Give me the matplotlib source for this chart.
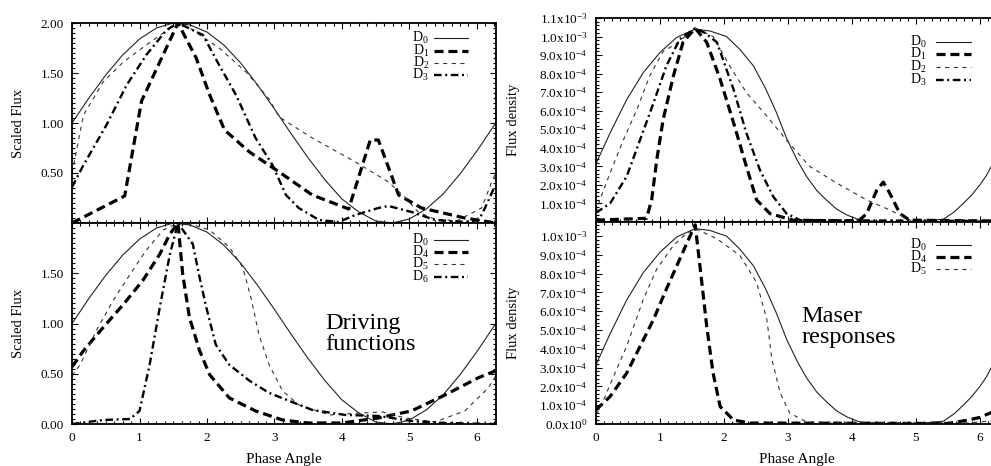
import matplotlib

matplotlib.use("Agg")

import matplotlib.pyplot as plt
import numpy as np
from matplotlib.ticker import AutoMinorLocator, FixedLocator, FuncFormatter

# ---- driving functions (left), scaled flux ----
D0_X = [0, 0.25, 0.5, 0.75, 1.0, 1.25, 1.5, 1.75, 2.0, 2.25, 2.5, 2.75, 3.0, 3.25,
        3.5, 3.75, 4.0, 4.25, 4.5, 4.75, 5.0, 5.25, 5.5, 5.75, 6.0, 6.28]
D0_Y = [1.00, 1.25, 1.48, 1.68, 1.84, 1.95, 2.00, 1.98, 1.91, 1.78, 1.60, 1.38, 1.14, 0.89,
        0.65, 0.43, 0.24, 0.11, 0.02, 0.00, 0.04, 0.14, 0.29, 0.49, 0.72, 1.00]

D1_X = [0, 0.78, 1.03, 1.57, 1.84, 2.04, 2.26, 2.63, 3.07, 3.56, 4.10, 4.42, 4.54, 4.84,
        5.18, 5.82, 6.28]
D1_Y = [0.00, 0.27, 1.22, 2.00, 1.65, 1.28, 0.93, 0.71, 0.51, 0.28, 0.14, 0.83, 0.83, 0.28,
        0.15, 0.05, 0.00]

D2_X = [0, 0.17, 0.46, 0.76, 1.10, 1.35, 1.57, 1.74, 2.18, 2.58, 2.92, 3.07, 3.56, 4.20,
        4.69, 4.93, 5.13, 5.37, 5.70, 6.07, 6.22, 6.28]
D2_Y = [0.50, 1.08, 1.41, 1.61, 1.78, 1.90, 2.00, 1.95, 1.75, 1.51, 1.24, 1.06, 0.85, 0.61,
        0.41, 0.26, 0.11, 0.04, 0.02, 0.15, 0.41, 0.50]

D3_X = [0, 0.17, 0.51, 0.81, 1.10, 1.40, 1.57, 1.94, 2.18, 2.43, 2.72, 2.97, 3.17, 3.36,
        3.66, 3.95, 4.20, 4.54, 4.69, 5.03, 5.38, 5.82, 6.03, 6.12, 6.24, 6.28]
D3_Y = [0.36, 0.58, 0.98, 1.38, 1.68, 1.93, 2.00, 1.88, 1.58, 1.28, 0.85, 0.58, 0.28, 0.15,
        0.03, 0.01, 0.08, 0.15, 0.17, 0.11, 0.03, 0.01, 0.03, 0.15, 0.33, 0.36]

D4_X = [0, 0.17, 0.46, 0.76, 1.05, 1.30, 1.45, 1.57, 1.64, 1.74, 1.89, 2.04, 2.33, 2.72,
        3.12, 3.50, 4.00, 4.54, 5.03, 5.53, 6.02, 6.28]
D4_Y = [0.57, 0.73, 0.96, 1.19, 1.43, 1.69, 1.89, 2.00, 1.49, 1.06, 0.73, 0.49, 0.26, 0.13,
        0.04, 0.01, 0.01, 0.06, 0.13, 0.29, 0.46, 0.53]

D5_X = [0, 0.12, 0.36, 0.61, 0.86, 1.10, 1.35, 1.57, 1.80, 2.04, 2.33, 2.53, 2.65, 2.77,
        2.92, 3.12, 3.36, 3.81, 4.30, 4.60, 4.94, 5.38, 5.82, 6.17, 6.28]
D5_Y = [0.48, 0.59, 0.93, 1.23, 1.49, 1.73, 1.93, 2.00, 1.98, 1.93, 1.76, 1.56, 1.26, 0.89,
        0.59, 0.33, 0.19, 0.09, 0.11, 0.12, 0.06, 0.02, 0.13, 0.36, 0.48]

D6_X = [0, 0.46, 0.86, 1.00, 1.15, 1.30, 1.45, 1.57, 1.79, 1.89, 1.99, 2.13, 2.33, 2.63,
        2.92, 3.22, 3.56, 4.05, 4.54, 5.03, 5.53, 6.28]
D6_Y = [0.00, 0.04, 0.05, 0.13, 0.59, 1.16, 1.69, 2.00, 1.79, 1.46, 1.16, 0.79, 0.59, 0.43,
        0.31, 0.23, 0.14, 0.09, 0.08, 0.03, 0.01, 0.00]

# ---- maser responses (right), flux density in units of 1e-4 ----
R0_X = [0, 0.22, 0.48, 0.74, 1.00, 1.26, 1.55, 1.78, 2.04, 2.25, 2.46, 2.65, 2.82, 2.98,
        3.15, 3.29, 3.45, 3.60, 3.76, 3.92, 4.13, 4.50, 5.00, 5.43, 5.60, 5.74, 5.87, 6.00,
        6.10, 6.17, 6.28]
R0_Y = [3.15, 4.8, 6.6, 8.06, 9.14, 9.95, 10.4, 10.3, 10.0, 9.3, 8.42, 7.2, 5.9, 4.5,
        3.3, 2.46, 1.7, 1.19, 0.7, 0.38, 0.10, 0.02, 0.02, 0.15, 0.55, 1.0, 1.45, 2.0,
        2.5, 2.95, 3.6]

R1_X = [0, 0.79, 0.87, 0.95, 1.05, 1.21, 1.36, 1.55, 1.73, 1.94, 2.15, 2.35, 2.51, 2.72,
        3.08, 4.10, 4.23, 4.39, 4.49, 4.59, 4.75, 4.90, 6.28]
R1_Y = [0.1, 0.2, 1.19, 3.36, 5.53, 7.88, 9.69, 10.45, 9.69, 7.7, 5.35, 3.0, 1.19, 0.45,
        0.1, 0.05, 0.45, 1.73, 2.15, 1.56, 0.45, 0.1, 0.05]

R2_X = [0, 0.06, 0.22, 0.43, 0.64, 0.84, 1.05, 1.25, 1.55, 1.83, 2.09, 2.35, 2.67, 2.98,
        3.34, 3.76, 4.23, 4.59, 4.91, 6.28]
R2_Y = [0.5, 1.19, 2.64, 4.44, 6.07, 7.88, 9.2, 9.6, 10.45, 10.0, 8.42, 6.98, 5.71, 4.4,
        3.0, 2.1, 1.19, 0.65, 0.1, 0.05]

R3_X = [0, 0.22, 0.48, 0.69, 0.90, 1.10, 1.31, 1.55, 1.70, 1.89, 2.15, 2.35, 2.56, 2.77,
        2.98, 3.19, 6.28]
R3_Y = [0.5, 1.0, 2.46, 4.44, 6.43, 8.42, 9.86, 10.45, 10.2, 9.69, 7.15, 4.8, 2.82, 1.37,
        0.45, 0.1, 0.05]

R4_X = [0, 0.22, 0.48, 0.69, 0.90, 1.10, 1.31, 1.47, 1.55, 1.63, 1.73, 1.83, 1.94, 2.15,
        2.41, 5.50, 5.80, 6.00, 6.17, 6.28]
R4_Y = [0.75, 1.46, 2.71, 4.14, 5.57, 7.18, 8.78, 10.0, 10.6, 8.25, 5.21, 2.71, 0.93, 0.21,
        0.05, 0.03, 0.2, 0.35, 0.6, 0.75]

R5_X = [0, 0.06, 0.27, 0.48, 0.74, 0.95, 1.21, 1.40, 1.55, 1.89, 2.25, 2.51, 2.67, 2.75,
        2.88, 3.03, 3.30, 5.80, 6.28]
R5_Y = [0.5, 0.8, 2.5, 4.14, 6.64, 8.25, 9.5, 10.1, 10.4, 9.86, 8.96, 7.53, 5.57, 3.43,
        1.64, 0.57, 0.1, 0.05, 0.2]

LEFT_TOP_TICKS = [0.5, 1.0, 1.5, 2.0]
LEFT_BOTTOM_TICKS = [0.0, 0.5, 1.0, 1.5]
RIGHT_TOP_TICKS = [1e-4 * k for k in range(1, 12)]
RIGHT_BOTTOM_TICKS = [1e-4 * k for k in range(0, 11)]
X_TICKS = [0, 1, 2, 3, 4, 5, 6]

SERIF = "Liberation Serif"
plt.rcParams["font.family"] = [SERIF, "DejaVu Serif"]
plt.rcParams["mathtext.fontset"] = "custom"
plt.rcParams["mathtext.rm"] = SERIF
plt.rcParams["mathtext.it"] = SERIF + ":italic"
plt.rcParams["mathtext.default"] = "regular"
plt.rcParams["lines.scale_dashes"] = False

STYLE_D0 = dict(color="#222222", lw=0.8, ls="-")
STYLE_THICK = dict(color="black", lw=2.3, ls=(0, (6.5, 3.5)))
STYLE_THIN = dict(color="#333333", lw=0.8, ls=(0, (3.0, 3.2)))
STYLE_DOTDASH = dict(color="black", lw=1.7, ls=(0, (5.5, 2.6, 1.4, 2.6)))


def sci_label(v, _pos=None):
    if abs(v) < 1e-12:
        return "0.0x10$^{0}$"
    e = int(np.floor(np.log10(abs(v)) + 1e-9))
    m = v / 10 ** e
    return f"{m:.1f}x10$^{{{e}}}$"


def style_axes(ax, yticks, ylim, fmt, show_x, ylabel, xminor=8, yminor=5):
    ax.set_xlim(0, 2 * np.pi)
    ax.set_ylim(*ylim)
    ax.xaxis.set_major_locator(FixedLocator(X_TICKS))
    ax.xaxis.set_minor_locator(AutoMinorLocator(xminor))
    ax.yaxis.set_major_locator(FixedLocator(yticks))
    ax.yaxis.set_minor_locator(AutoMinorLocator(yminor))
    ax.yaxis.set_major_formatter(FuncFormatter(fmt))
    ax.tick_params(which="both", direction="in", top=True, right=True, labelsize=9.5,
                   width=0.8)
    ax.tick_params(which="major", length=4.5, pad=6)
    ax.tick_params(which="minor", length=2.0)
    ax.tick_params(axis="x", labelbottom=show_x)
    for spine in ax.spines.values():
        spine.set_linewidth(1.3)
    ax.set_ylabel(ylabel, fontsize=10.5)


def draw_key(ax, labels, styles, x_text, x_line, rows):
    for label, style, y in zip(labels, styles, rows):
        ax.text(x_text, y, label, transform=ax.transAxes, ha="right", va="center",
                fontsize=10)
        ax.plot(x_line, [y, y], transform=ax.transAxes, clip_on=False, **style)


def main() -> None:
    fig = plt.figure(figsize=(9.91, 4.66), dpi=100)

    ax_lt = fig.add_axes([0.0727, 0.5215, 0.4278, 0.4291])
    ax_lb = fig.add_axes([0.0727, 0.0901, 0.4278, 0.4313])
    ax_rt = fig.add_axes([0.6014, 0.5236, 0.4057, 0.4378])
    ax_rb = fig.add_axes([0.6014, 0.0901, 0.4057, 0.4335])

    # driving functions, top
    ax_lt.plot(D0_X, D0_Y, **STYLE_D0)
    ax_lt.plot(D1_X, D1_Y, **STYLE_THICK)
    ax_lt.plot(D2_X, D2_Y, **STYLE_THIN)
    ax_lt.plot(D3_X, D3_Y, **STYLE_DOTDASH)
    style_axes(ax_lt, LEFT_TOP_TICKS, (0, 2.0), lambda v, p: f"{v:.2f}", False,
               "Scaled Flux", yminor=10)
    draw_key(ax_lt, ["D$_0$", "D$_1$", "D$_2$", "D$_3$"],
             [STYLE_D0, STYLE_THICK, STYLE_THIN, STYLE_DOTDASH],
             0.842, [0.853, 0.934], [0.925, 0.862, 0.800, 0.738])

    # driving functions, bottom
    ax_lb.plot(D0_X, D0_Y, **STYLE_D0)
    ax_lb.plot(D4_X, D4_Y, **STYLE_THICK)
    ax_lb.plot(D5_X, D5_Y, **STYLE_THIN)
    ax_lb.plot(D6_X, D6_Y, **STYLE_DOTDASH)
    style_axes(ax_lb, LEFT_BOTTOM_TICKS, (0, 2.0), lambda v, p: f"{v:.2f}", True,
               "Scaled Flux", yminor=10)
    draw_key(ax_lb, ["D$_0$", "D$_4$", "D$_5$", "D$_6$"],
             [STYLE_D0, STYLE_THICK, STYLE_THIN, STYLE_DOTDASH],
             0.842, [0.853, 0.934], [0.917, 0.857, 0.795, 0.733])
    ax_lb.text(3.76, 0.90, "Driving\nfunctions", fontsize=17.5, ha="left", va="center",
               linespacing=1.0)
    ax_lb.set_xlabel("Phase Angle", fontsize=11)

    # maser responses, top
    ax_rt.plot(R0_X, np.array(R0_Y) * 1e-4, **STYLE_D0)
    ax_rt.plot(R1_X, np.array(R1_Y) * 1e-4, **STYLE_THICK)
    ax_rt.plot(R2_X, np.array(R2_Y) * 1e-4, **STYLE_THIN)
    ax_rt.plot(R3_X, np.array(R3_Y) * 1e-4, **STYLE_DOTDASH)
    style_axes(ax_rt, RIGHT_TOP_TICKS, (0, 1.1e-3), sci_label, False, "Flux density")
    draw_key(ax_rt, ["D$_0$", "D$_1$", "D$_2$", "D$_3$"],
             [STYLE_D0, STYLE_THICK, STYLE_THIN, STYLE_DOTDASH],
             0.823, [0.845, 0.933], [0.884, 0.822, 0.760, 0.698])

    # maser responses, bottom
    ax_rb.plot(R0_X, np.array(R0_Y) * 1e-4, **STYLE_D0)
    ax_rb.plot(R4_X, np.array(R4_Y) * 1e-4, **STYLE_THICK)
    ax_rb.plot(R5_X, np.array(R5_Y) * 1e-4, **STYLE_THIN)
    style_axes(ax_rb, RIGHT_BOTTOM_TICKS, (0, 1.075e-3), sci_label, True, "Flux density")
    draw_key(ax_rb, ["D$_0$", "D$_4$", "D$_5$"],
             [STYLE_D0, STYLE_THICK, STYLE_THIN],
             0.823, [0.845, 0.933], [0.886, 0.828, 0.767])
    ax_rb.text(3.21, 5.14e-4, "Maser\nresponses", fontsize=17.5, ha="left", va="center",
               linespacing=1.0)
    ax_rb.set_xlabel("Phase Angle", fontsize=11)

    ax_lt.yaxis.set_label_coords(-0.11, 0.5)
    ax_lb.yaxis.set_label_coords(-0.11, 0.5)
    ax_rt.yaxis.set_label_coords(-0.19, 0.5)
    ax_rb.yaxis.set_label_coords(-0.19, 0.5)
    ax_lb.xaxis.set_label_coords(0.5, -0.145)
    ax_rb.xaxis.set_label_coords(0.5, -0.145)

    fig.savefig("out.png", dpi=100)
    plt.close(fig)


if __name__ == "__main__":
    main()
